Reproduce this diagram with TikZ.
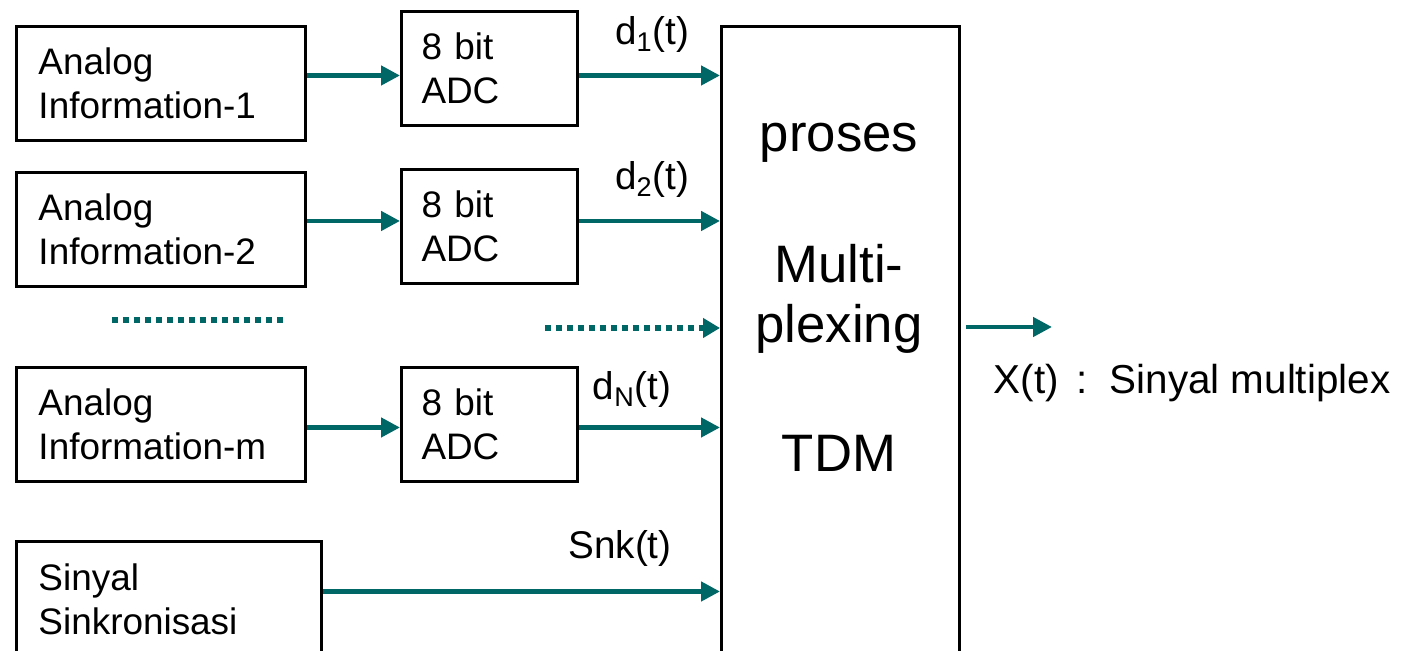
\documentclass[tikz,border=0pt]{standalone}
\usepackage{fontspec}
\setmainfont{Liberation Sans}
\usetikzlibrary{arrows.meta,positioning,calc}
\definecolor{arrowteal}{RGB}{0,102,102}

\begin{document}
\begin{tikzpicture}[
  x=0.02cm, y=-0.02cm,
  font=\fontsize{21}{25}\selectfont,
  every node/.style={align=left},
  srcbox/.style={rectangle, draw=black, line width=0.06cm, anchor=north west,
    minimum width=5.78cm, minimum height=2.28cm, text width=4.9cm, inner sep=0pt},
  adcbox/.style={rectangle, draw=black, line width=0.06cm, anchor=north west,
    minimum width=3.52cm, minimum height=2.28cm, text width=2.72cm, inner sep=0pt},
  tdmbox/.style={rectangle, draw=black, line width=0.06cm, anchor=north west,
    minimum width=4.76cm, minimum height=13.2cm},
  bigtext/.style={font=\fontsize{30}{34}\selectfont, align=center},
  siglabel/.style={font=\fontsize{22}{26}\selectfont, inner sep=0pt},
  arr/.style={-{Triangle[length=0.38cm,width=0.38cm]}, line width=0.09cm, color=arrowteal},
  dotline/.style={line width=0.11cm, color=arrowteal, dash pattern=on 0.12cm off 0.1cm},
]
\useasboundingbox (0,0) rectangle (1407,651);
\clip (0,0) rectangle (1407,651);

% Analog sources
\node[srcbox] (src1) at (15,25)  {Analog\\Information-1};
\node[srcbox] (src2) at (15,171) {Analog\\Information-2};
\node[srcbox] (srcm) at (15,366) {Analog\\Information-m};

% Sync source
\node[srcbox, minimum width=6.1cm, text width=5.22cm, minimum height=2.3cm] (sync) at (15,540)
  {Sinyal\\Sinkronisasi};

% ADC blocks
\node[adcbox] (adc1) at (400,10)  {8 bit\\ADC};
\node[adcbox] (adc2) at (400,168) {8 bit\\ADC};
\node[adcbox] (adcm) at (400,366) {8 bit\\ADC};

% Multiplexer
\node[tdmbox] (tdm) at (720,25) {};
\node[bigtext] (proses) at (839,143) {proses};
\node[bigtext] (multi)  at (839,299) {Multi-\\plexing};
\node[bigtext] (tdmtxt) at (839,453) {TDM};

% Signal labels
\node[siglabel] (d1) at (652,35)  {d\textsubscript{1}(t)};
\node[siglabel] (d2) at (652,180) {d\textsubscript{2}(t)};
\node[siglabel] (dn) at (632,390) {d\textsubscript{N}(t)};
\node[siglabel] (snk) at (620,548) {Snk(t)};

% Output
\coordinate (xout) at (1052,327);
\node[siglabel, font=\fontsize{23}{27}\selectfont] (xlabel) at (1192,383)
  {X(t) \,:\, Sinyal multiplex};

% Arrow rows
\coordinate (row1) at ([yshift=-0.14cm]adc1.west);
\coordinate (row2) at ([yshift=0.11cm]adc2.west);
\coordinate (rowm) at ([yshift=-0.06cm]adcm.west);
\coordinate (rows) at ([yshift=0.15cm]sync.east);

% Main arrows
\draw[arr] (src1.east |- row1) -- (row1);
\draw[arr] (src2.east |- row2) -- (row2);
\draw[arr] (srcm.east |- rowm) -- (rowm);
\draw[arr] (adc1.east |- row1) -- (row1 -| tdm.west);
\draw[arr] (adc2.east |- row2) -- (row2 -| tdm.west);
\draw[arr] (adcm.east |- rowm) -- (rowm -| tdm.west);
\draw[arr] (rows) -- (rows -| tdm.west);
\draw[arr] ([xshift=0.1cm]tdm.east |- xout) -- (xout);

% Dotted rows
\coordinate (dotL1) at (112,320);
\coordinate (dotL2) at (287,320);
\coordinate (dotR)  at (545,328);
\draw[dotline] (dotL1) -- (dotL2);
\draw[dotline, -{Triangle[length=0.34cm,width=0.38cm]}] (dotR) -- (dotR -| tdm.west);
\end{tikzpicture}
\end{document}
